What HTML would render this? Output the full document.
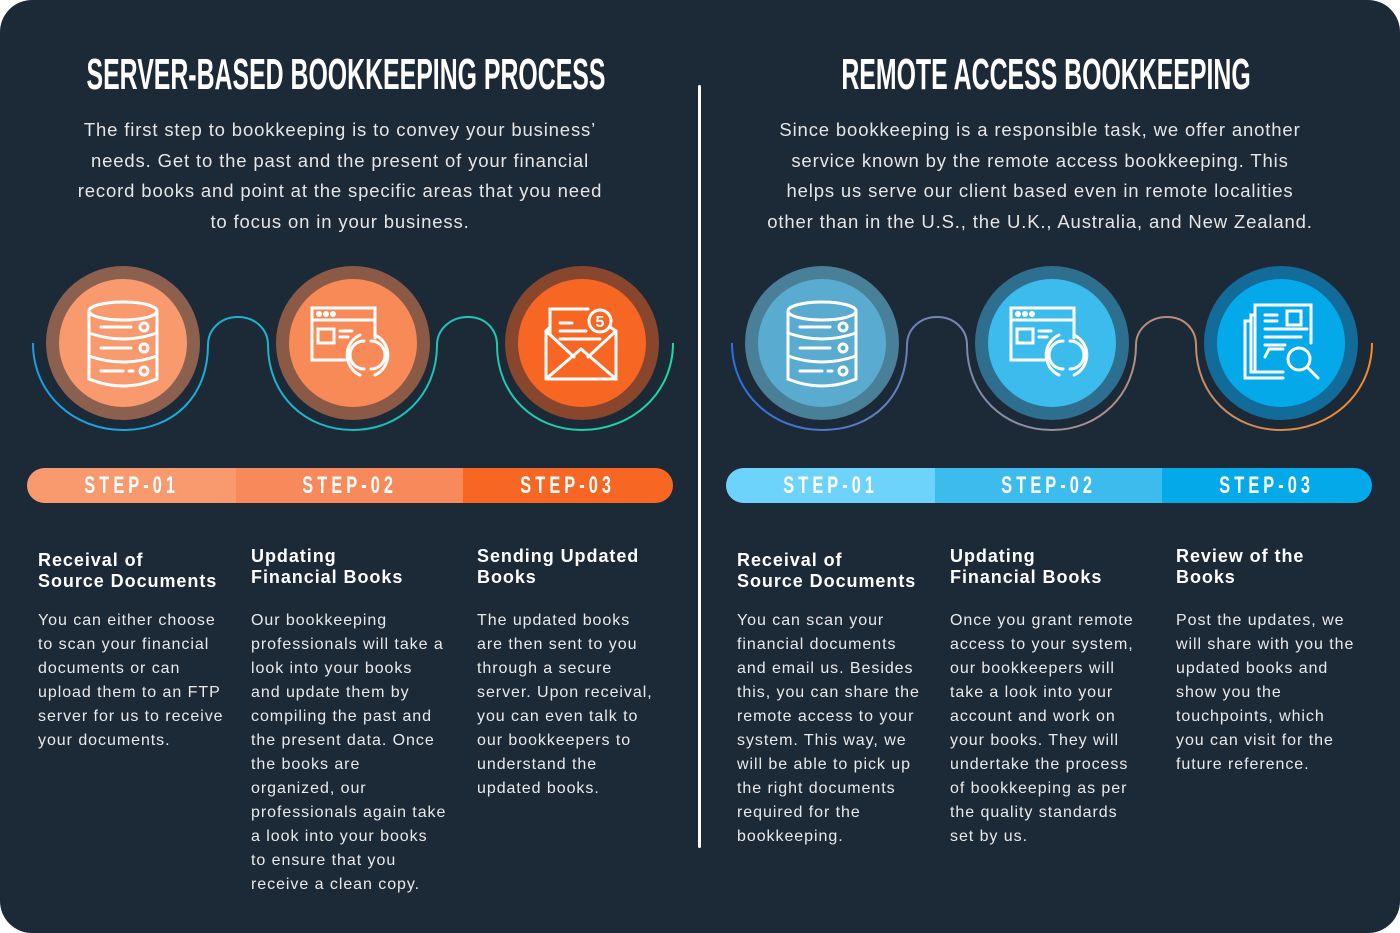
<!DOCTYPE html>
<html><head><meta charset="utf-8"><style>
html,body{margin:0;padding:0;background:#fff;}
#c{position:relative;width:1400px;height:933px;background:#1c2937;border-radius:32px;overflow:hidden;font-family:"Liberation Sans",sans-serif;color:#ececec;}
.t{position:absolute;top:50px;font-weight:bold;font-size:44px;color:#fff;white-space:nowrap;transform:scaleX(0.565);transform-origin:center top;text-align:center;width:1000px;letter-spacing:0px;}
.intro{position:absolute;top:115px;font-size:18.5px;line-height:30.6px;text-align:center;color:#e6e6e6;white-space:nowrap;letter-spacing:.85px;}
.h{position:absolute;font-weight:bold;font-size:18px;line-height:21px;color:#fff;white-space:nowrap;letter-spacing:.95px;}
.b{position:absolute;top:609px;font-size:16px;line-height:24px;white-space:nowrap;color:#eaeaea;letter-spacing:.95px;}
.bar{position:absolute;top:468px;height:35px;border-radius:18px;overflow:hidden;display:flex;width:646px;}
.bar div{height:35px;line-height:36px;text-align:center;color:#fff;font-weight:bold;font-size:24px;letter-spacing:6px;}
.bar span{display:inline-block;transform:scaleX(.68);}
#div{position:absolute;left:698px;top:85px;width:3px;height:763px;background:#fff;border-radius:2px;}
</style></head><body><div id="c">
<div class="t" style="left:-154px;">SERVER-BASED BOOKKEEPING PROCESS</div>
<div class="t" style="left:546px;">REMOTE ACCESS BOOKKEEPING</div>
<div class="intro" style="left:40px;width:600px;">The first step to bookkeeping is to convey your business’<br>needs. Get to the past and the present of your financial<br>record books and point at the specific areas that you need<br>to focus on in your business.</div>
<div class="intro" style="left:740px;width:600px;">Since bookkeeping is a responsible task, we offer another<br>service known by the remote access bookkeeping. This<br>helps us serve our client based even in remote localities<br>other than in the U.S., the U.K., Australia, and New Zealand.</div>
<div id="div"></div>
<svg width="1400" height="933" style="position:absolute;left:0;top:0">
<defs>
<linearGradient id="g1" x1="0" x2="1"><stop offset="0" stop-color="#1a9fe6"/><stop offset="1" stop-color="#1ed9a0"/></linearGradient>
<linearGradient id="g2" x1="0" x2="1"><stop offset="0" stop-color="#2e6fe0"/><stop offset=".5" stop-color="#9a90a0"/><stop offset="1" stop-color="#f58a2a"/></linearGradient>
<g id="wave"><path d="M33,343 C33,395 75,430 123,430 C175,430 208,395 208,345 C208,330 220,317 238,317 C256,317 268,330 268,345 C268,395 305,430 353,430 C400,430 437,395 437,345 C437,330 450,317 468,317 C486,317 497,330 497,345 C497,395 534,430 582,430 C630,430 673,395 673,343" fill="none" stroke-width="2"/></g>
<g id="db" fill="none" stroke="#fff" stroke-width="3" stroke-linecap="round">
<ellipse cx="0" cy="-32" rx="34" ry="9"/><path d="M-34,-32 V36 Q0,50 34,36 V-32"/><path d="M-34,-10 Q0,2 34,-10 M-34,13 Q0,25 34,13"/><path d="M-22,-16 H8 M-22,5 H8 M-22,28 H0 M6,28 H10"/><circle cx="21" cy="-16" r="4"/><circle cx="21" cy="5" r="4"/><circle cx="21" cy="28" r="4"/></g>
<g id="web" fill="none" stroke="#fff" stroke-width="3" stroke-linecap="round">
<path d="M-5,17 H-38 V-35 H25 V-5"/><path d="M-38,-23 H25"/><circle cx="-31" cy="-29" r="1.5"/><circle cx="-24" cy="-29" r="1.5"/><circle cx="-17" cy="-29" r="1.5"/><rect x="-32" y="-14" width="16" height="14"/><path d="M-10,-12 H2 M-10,-6 H-2"/><path d="M10,-8 A22,22 0 0 0 10,32 M25,-8 A22,22 0 0 1 25,32 M14,-2 A14,14 0 0 0 14,26 M21,-2 A14,14 0 0 1 21,26"/></g>
</defs>
<use href="#wave" stroke="url(#g1)"/>
<use href="#wave" stroke="url(#g2)" transform="translate(699,0)"/>
<circle cx="123" cy="343" r="77" fill="#8b604f"/><circle cx="123" cy="343" r="64" fill="#f89a6e"/>
<circle cx="353" cy="343" r="77" fill="#8a5a47"/><circle cx="353" cy="343" r="64" fill="#f88a58"/>
<circle cx="582" cy="343" r="77" fill="#88472c"/><circle cx="582" cy="343" r="64" fill="#f86624"/>
<circle cx="822" cy="343" r="77" fill="#4a7f98"/><circle cx="822" cy="343" r="64" fill="#5aabd0"/>
<circle cx="1052" cy="343" r="77" fill="#2e6f8f"/><circle cx="1052" cy="343" r="64" fill="#3bbcec"/>
<circle cx="1281" cy="343" r="77" fill="#126b98"/><circle cx="1281" cy="343" r="64" fill="#03a9e8"/>
<use href="#db" transform="translate(123,343)"/>
<use href="#db" transform="translate(822,343)"/>
<use href="#web" transform="translate(350,343)"/>
<use href="#web" transform="translate(1049,343)"/>
<g fill="none" stroke="#fff" stroke-width="3" stroke-linecap="round" transform="translate(582,343)">
<path d="M-32,-16 L-36,-12 V36 H34 V-12 L28,-16 M-32,-10 V-34 H6"/><path d="M-36,-12 L-8,14 M34,-12 L6,14 M-36,36 L-1,6 L34,36"/><path d="M-22,-20 H-10 M-22,-12 H4 M-22,-4 H18"/><circle cx="18" cy="-22" r="11"/><text x="18" y="-16" fill="#fff" stroke="none" font-size="16" font-weight="bold" text-anchor="middle" font-family="Liberation Sans">5</text></g>
<g fill="none" stroke="#fff" stroke-width="3" stroke-linecap="round" transform="translate(1281,343)">
<path d="M-30,-22 H-36 V35 H2 M-26,-28 H-30 V29 H2"/><path d="M-26,29 V-38 H30 V0"/><path d="M-16,-28 H-4 M-16,-22 H-4 M-16,-14 H26 M-16,-6 H20 M-16,2 H4 M-16,14 L-12,6 H2"/><rect x="6" y="-32" width="14" height="14"/><circle cx="18" cy="16" r="11"/><path d="M26,24 L37,35"/></g>
</svg>
<div class="bar" style="left:27px;"><div style="width:209px;background:#f89a6e"><span>STEP-01</span></div><div style="width:227px;background:#f8895a"><span>STEP-02</span></div><div style="width:210px;background:#f86624"><span>STEP-03</span></div></div>
<div class="bar" style="left:726px;"><div style="width:209px;background:#6dd3fa"><span>STEP-01</span></div><div style="width:227px;background:#3bbcec"><span>STEP-02</span></div><div style="width:210px;background:#03a9e8"><span>STEP-03</span></div></div>

<div class="h" style="left:38px;top:550px">Receival of<br>Source Documents</div>
<div class="h" style="left:251px;top:546px">Updating<br>Financial Books</div>
<div class="h" style="left:477px;top:546px">Sending Updated<br>Books</div>
<div class="h" style="left:737px;top:550px">Receival of<br>Source Documents</div>
<div class="h" style="left:950px;top:546px">Updating<br>Financial Books</div>
<div class="h" style="left:1176px;top:546px">Review of the<br>Books</div>

<div class="b" style="left:38px">You can either choose<br>to scan your financial<br>documents or can<br>upload them to an FTP<br>server for us to receive<br>your documents.</div>
<div class="b" style="left:251px">Our bookkeeping<br>professionals will take a<br>look into your books<br>and update them by<br>compiling the past and<br>the present data. Once<br>the books are<br>organized, our<br>professionals again take<br>a look into your books<br>to ensure that you<br>receive a clean copy.</div>
<div class="b" style="left:477px">The updated books<br>are then sent to you<br>through a secure<br>server. Upon receival,<br>you can even talk to<br>our bookkeepers to<br>understand the<br>updated books.</div>
<div class="b" style="left:737px">You can scan your<br>financial documents<br>and email us. Besides<br>this, you can share the<br>remote access to your<br>system. This way, we<br>will be able to pick up<br>the right documents<br>required for the<br>bookkeeping.</div>
<div class="b" style="left:950px">Once you grant remote<br>access to your system,<br>our bookkeepers will<br>take a look into your<br>account and work on<br>your books. They will<br>undertake the process<br>of bookkeeping as per<br>the quality standards<br>set by us.</div>
<div class="b" style="left:1176px">Post the updates, we<br>will share with you the<br>updated books and<br>show you the<br>touchpoints, which<br>you can visit for the<br>future reference.</div>
</div></body></html>
